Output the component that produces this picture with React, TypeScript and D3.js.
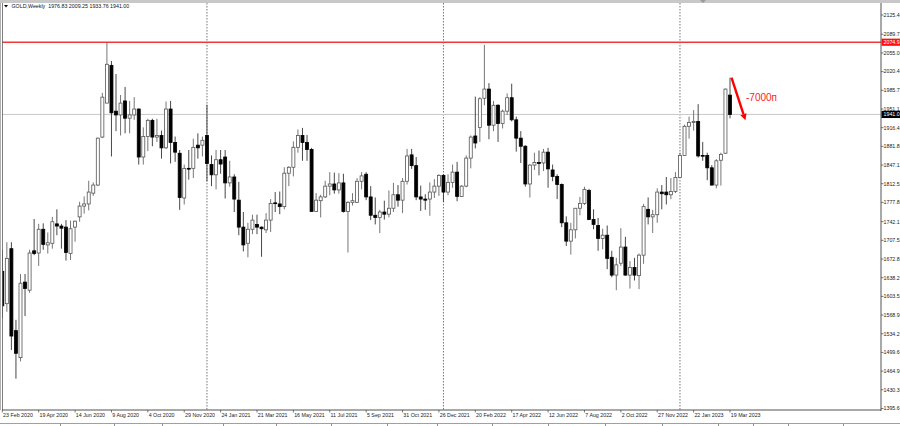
import React from "react";
import * as d3 from "d3";

const W = 900;
const H = 426;

const opens = [
  1650, 1590, 1692, 1540, 1490, 1630, 1615, 1688, 1684, 1728,
  1699, 1702, 1738, 1734, 1732, 1683, 1732, 1751, 1771, 1775,
  1795, 1810, 1899, 1962, 2032, 1947, 1940, 1966, 1934, 1940,
  1951, 1862, 1900, 1930, 1899, 1902, 1879, 1951, 1889, 1869,
  1786, 1841, 1841, 1884, 1884, 1902, 1848, 1829, 1857, 1862,
  1814, 1825, 1782, 1732, 1702, 1728, 1737, 1732, 1727, 1745,
  1777, 1775, 1770, 1832, 1843, 1880, 1902, 1889, 1876, 1761,
  1781, 1788, 1808, 1812, 1801, 1814, 1761, 1778, 1778, 1817,
  1830, 1788, 1754, 1750, 1760, 1756, 1767, 1792, 1782, 1817,
  1866, 1846, 1788, 1784, 1784, 1797, 1808, 1828, 1797, 1815,
  1834, 1789, 1808, 1860, 1901, 1917, 1971, 1988, 1921, 1958,
  1924, 1947, 1972, 1931, 1897, 1882, 1812, 1847, 1852, 1851,
  1871, 1838, 1826, 1811, 1740, 1706, 1727, 1767, 1776, 1800,
  1746, 1735, 1711, 1717, 1676, 1643, 1665, 1695, 1643, 1657,
  1642, 1680, 1765, 1751, 1755, 1797, 1797, 1792, 1798, 1824,
  1865, 1919, 1926, 1928, 1865, 1865, 1842, 1810, 1856, 1869,
  1976.83,
];

const highs = [
  1690, 1704, 1704, 1560, 1645, 1645, 1690, 1747, 1738, 1739,
  1722, 1751, 1765, 1738, 1745, 1744, 1744, 1779, 1789, 1818,
  1815, 1898, 1981, 2075, 2040, 2016, 1977, 1992, 1966, 1973,
  1952, 1917, 1933, 1933, 1933, 1911, 1965, 1966, 1900, 1875,
  1848, 1875, 1896, 1906, 1900, 1959, 1865, 1875, 1875, 1875,
  1855, 1830, 1816, 1760, 1740, 1755, 1755, 1733, 1758, 1784,
  1797, 1798, 1843, 1845, 1891, 1913, 1916, 1903, 1879, 1795,
  1792, 1818, 1834, 1833, 1832, 1831, 1780, 1795, 1823, 1834,
  1834, 1808, 1787, 1764, 1781, 1800, 1814, 1810, 1823, 1877,
  1877, 1862, 1809, 1793, 1815, 1821, 1830, 1830, 1830, 1848,
  1853, 1810, 1865, 1902, 1974, 1973, 2070, 1999, 1966, 1960,
  1950, 1980, 1998, 1937, 1910, 1884, 1849, 1870, 1874, 1877,
  1879, 1848, 1830, 1813, 1752, 1740, 1767, 1788, 1807, 1803,
  1765, 1749, 1729, 1735, 1688, 1675, 1730, 1714, 1669, 1675,
  1683, 1775, 1787, 1764, 1804, 1810, 1825, 1823, 1834, 1870,
  1922, 1937, 1949, 1960, 1890, 1870, 1847, 1858, 1870, 1989,
  2009.25,
];

const lows = [
  1563, 1575, 1504, 1451, 1483, 1567, 1610, 1680, 1660, 1690,
  1683, 1692, 1717, 1692, 1670, 1671, 1705, 1742, 1757, 1763,
  1790, 1808, 1897, 1962, 1863, 1910, 1902, 1906, 1906, 1931,
  1848, 1848, 1873, 1882, 1890, 1859, 1877, 1850, 1853, 1764,
  1774, 1820, 1823, 1859, 1863, 1817, 1808, 1802, 1831, 1785,
  1807, 1760, 1717, 1687, 1676, 1719, 1719, 1677, 1721, 1723,
  1760, 1756, 1765, 1808, 1826, 1870, 1855, 1855, 1761, 1761,
  1750, 1786, 1791, 1794, 1794, 1759, 1685, 1772, 1777, 1802,
  1782, 1745, 1737, 1721, 1746, 1750, 1760, 1770, 1758, 1811,
  1840, 1782, 1762, 1764, 1753, 1786, 1790, 1779, 1791, 1805,
  1780, 1788, 1806, 1841, 1878, 1890, 1958, 1895, 1910, 1890,
  1915, 1940, 1928, 1872, 1851, 1807, 1787, 1838, 1828, 1836,
  1805, 1817, 1784, 1732, 1697, 1681, 1711, 1754, 1773, 1745,
  1728, 1688, 1691, 1654, 1639, 1615, 1660, 1642, 1618, 1633,
  1617, 1664, 1737, 1721, 1740, 1765, 1774, 1784, 1795, 1824,
  1865, 1896, 1911, 1861, 1855, 1819, 1809, 1804, 1809, 1868,
  1933.76,
];

const closes = [
  1586, 1674, 1530, 1498, 1628, 1618, 1684, 1683, 1728, 1700,
  1703, 1742, 1734, 1730, 1685, 1729, 1743, 1771, 1775, 1797,
  1810, 1897, 1973, 2034, 1944, 1940, 1962, 1934, 1940, 1951,
  1862, 1900, 1930, 1899, 1902, 1879, 1951, 1889, 1871, 1787,
  1841, 1840, 1880, 1879, 1893, 1850, 1829, 1857, 1849, 1814,
  1825, 1784, 1732, 1699, 1728, 1745, 1732, 1729, 1745, 1776,
  1776, 1770, 1832, 1843, 1880, 1902, 1889, 1876, 1761, 1782,
  1788, 1808, 1812, 1801, 1814, 1761, 1778, 1781, 1817, 1827,
  1788, 1754, 1750, 1760, 1756, 1767, 1792, 1782, 1817, 1864,
  1846, 1788, 1784, 1782, 1797, 1808, 1828, 1797, 1815, 1834,
  1789, 1808, 1860, 1899, 1888, 1970, 1988, 1921, 1958, 1924,
  1947, 1972, 1931, 1897, 1882, 1812, 1847, 1852, 1850, 1871,
  1840, 1826, 1811, 1740, 1706, 1727, 1767, 1776, 1802, 1746,
  1737, 1711, 1717, 1674, 1643, 1662, 1695, 1643, 1657, 1643,
  1680, 1770, 1751, 1755, 1797, 1794, 1792, 1798, 1824, 1865,
  1919, 1926, 1928, 1864, 1864, 1842, 1810, 1855, 1867, 1988,
  1941.0,
];

const priceTicks = [
  2125.4, 2089.7, 2055.0, 2020.4, 1985.7, 1951.1, 1916.4, 1881.8, 1847.1, 1812.5,
  1777.8, 1742.1, 1707.5, 1672.8, 1638.2, 1603.5, 1568.9, 1534.2, 1499.6, 1464.9,
  1430.3, 1395.6,
];

const firstWeek = new Date(2020, 1, 23);
const dateTickEvery = 8;
const levelPrice = 2074.9;
const bidPrice = 1941.0;
const titleText = "GOLD,Weekly  1976.83 2009.25 1933.76 1941.00";
const annotationText = "-7000п";

const tabSeparators = [60, 114, 162, 223, 276, 331, 387, 437, 492, 548, 605, 662, 718, 753, 788, 843];

export default function App() {
  const n = closes.length;
  const dates = d3.range(n).map((i) => d3.timeWeek.offset(firstWeek, i));
  const fmt = d3.timeFormat("%-d %b %Y");

  const plotRight = 881;
  const plotBottom = 410;
  const plotTop = 3;

  const x = d3.scaleLinear().domain([0, n - 1]).range([2.3, 730]);
  const y = d3.scaleLinear().domain([1395.6, 2125.4]).range([408.5, 15]);

  const bodyW = 3;
  const font = "'Liberation Sans', Arial, sans-serif";
  const fs = 5.3;

  const separators = d3.range(1, n).filter((i) => dates[i].getFullYear() !== dates[i - 1].getFullYear());
  const dateTicks = d3.range(0, n, dateTickEvery);

  const ax0 = x(n - 1) + 1.5;
  const ay0 = y(highs[n - 1]);
  const ax1 = x(n - 1 + 3.4);
  const ay1 = y(1930);
  const ang = Math.atan2(ay1 - ay0, ax1 - ax0);
  const headLen = 6.5;
  const headW = 3.2;
  const bx = ax1 - headLen * Math.cos(ang);
  const by = ay1 - headLen * Math.sin(ang);
  const px = -Math.sin(ang) * headW;
  const py = Math.cos(ang) * headW;

  return (
    <svg
      width={W}
      height={H}
      style={{ position: "fixed", left: 0, top: 0, background: "#ffffff" }}
      fontFamily={font}
    >
      <rect x={0} y={0} width={W} height={H} fill="#ffffff" />
      {/* top strip */}
      <rect x={0} y={0} width={W} height={plotTop} fill="#c8c8c8" />
      <path d="M700,0 L706,0 L703,3 Z" fill="#9a9a9a" />

      {/* clip region */}
      <defs>
        <clipPath id="plot">
          <rect x={2} y={plotTop} width={plotRight - 2} height={plotBottom - plotTop} />
        </clipPath>
      </defs>

      <g clipPath="url(#plot)">
        {/* year separators */}
        {separators.map((i) => (
          <line
            key={"sep" + i}
            x1={x(i)}
            x2={x(i)}
            y1={plotTop}
            y2={plotBottom}
            stroke="#505050"
            strokeWidth={0.8}
            strokeDasharray="1.5,1.5"
          />
        ))}

        {/* bid line */}
        <line x1={2} x2={plotRight} y1={y(bidPrice)} y2={y(bidPrice)} stroke="#c8c8c8" strokeWidth={1} />

        {/* candles */}
        {closes.map((c, i) => {
          const o = opens[i];
          const up = c >= o;
          const cx = x(i);
          const top = y(Math.max(o, c));
          const bot = y(Math.min(o, c));
          return (
            <g key={i}>
              <line
                x1={cx}
                x2={cx}
                y1={y(highs[i])}
                y2={y(lows[i])}
                stroke={up ? "#666666" : "#333333"}
                strokeWidth={0.9}
              />
              <rect
                x={cx - bodyW / 2}
                y={top}
                width={bodyW}
                height={Math.max(0.8, bot - top)}
                fill={up ? "#ffffff" : "#000000"}
                stroke={up ? "#555555" : "#000000"}
                strokeWidth={0.8}
              />
            </g>
          );
        })}

        {/* level line */}
        <line x1={2} x2={plotRight} y1={y(levelPrice)} y2={y(levelPrice)} stroke="#f03a3a" strokeWidth={1.6} />
      </g>

      {/* frame */}
      <line x1={0.5} x2={0.5} y1={plotTop} y2={plotBottom} stroke="#b0b0b0" strokeWidth={1} />
      <line x1={2.5} x2={2.5} y1={plotTop} y2={plotBottom} stroke="#606060" strokeWidth={0.8} />
      <line x1={plotRight} x2={plotRight} y1={plotTop} y2={plotBottom + 1} stroke="#404040" strokeWidth={0.9} />
      <line x1={2} x2={plotRight} y1={plotBottom} y2={plotBottom} stroke="#404040" strokeWidth={0.9} />

      {/* title */}
      <path d="M4,5 L8,5 L6,7.5 Z" fill="#000" />
      <text x={11.5} y={8} fontSize={5.3} fill="#111" style={{ whiteSpace: "pre" }}>
        {titleText}
      </text>

      {/* price axis */}
      {priceTicks.map((p) => (
        <g key={"pt" + p}>
          <line x1={plotRight} x2={plotRight + 2.5} y1={y(p)} y2={y(p)} stroke="#404040" strokeWidth={0.7} />
          <text x={plotRight + 2.5} y={y(p)} dy="0.35em" fontSize={fs} fill="#222">
            {p.toFixed(1)}
          </text>
        </g>
      ))}

      {/* price tags */}
      <rect x={plotRight + 0.5} y={y(levelPrice) - 3.6} width={W - plotRight} height={7.2} fill="#ff1010" />
      <text x={plotRight + 2.5} y={y(levelPrice)} dy="0.35em" fontSize={fs} fill="#ffffff">
        {levelPrice.toFixed(1)}
      </text>
      <rect x={plotRight + 0.5} y={y(bidPrice) - 3.6} width={W - plotRight} height={7.2} fill="#000000" />
      <text x={plotRight + 2.5} y={y(bidPrice)} dy="0.35em" fontSize={fs} fill="#ffffff">
        {bidPrice.toFixed(1)}
      </text>

      {/* date axis */}
      {dateTicks.map((i) => (
        <g key={"dt" + i}>
          <line x1={x(i)} x2={x(i)} y1={plotBottom} y2={plotBottom + 2.5} stroke="#404040" strokeWidth={0.7} />
          <text x={x(i) + 0.8} y={plotBottom + 5} dy="0.35em" fontSize={fs} fill="#222">
            {fmt(dates[i])}
          </text>
        </g>
      ))}

      {/* tab strip */}
      <line x1={0} x2={W} y1={423.5} y2={423.5} stroke="#a0a0a0" strokeWidth={1} />
      {tabSeparators.map((t) => (
        <line key={"tab" + t} x1={t + 0.5} x2={t + 0.5} y1={423.5} y2={H} stroke="#909090" strokeWidth={1} />
      ))}

      {/* annotation */}
      <line x1={ax0} y1={ay0} x2={bx} y2={by} stroke="#ff0000" strokeWidth={2.4} />
      <path d={`M${ax1},${ay1} L${bx + px},${by + py} L${bx - px},${by - py} Z`} fill="#ff0000" />
      <text x={746} y={101} fontSize={10} fill="#ff2020" fontFamily={font}>
        {annotationText}
      </text>
    </svg>
  );
}
